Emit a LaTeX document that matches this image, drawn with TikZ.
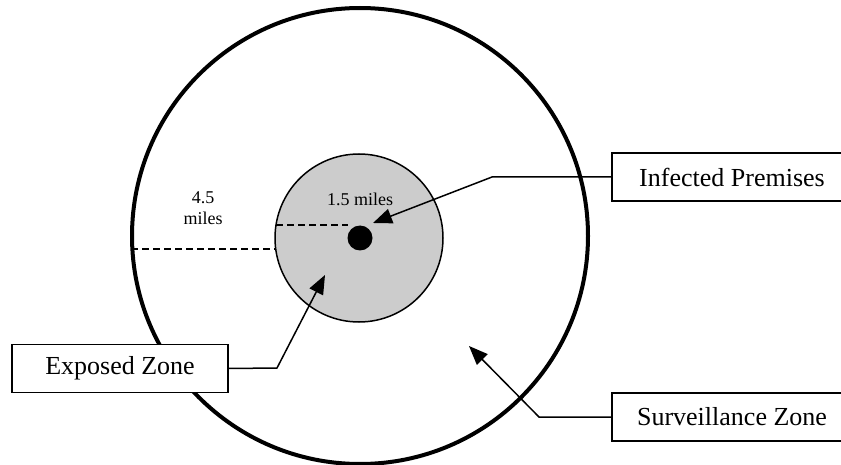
\documentclass[tikz,border=0pt]{standalone}
\usepackage{fontspec}
\setmainfont{Liberation Serif}
\usetikzlibrary{arrows.meta}

\begin{document}
\begin{tikzpicture}[x=1pt, y=-1pt,
    labelbox/.style={draw, fill=white, line width=1.5pt, inner sep=0pt, minimum height=48pt,
      font=\fontsize{26}{30}\selectfont},
    pointer/.style={line width=1.5pt, -{Triangle[length=19pt,width=15pt]}},
    radius line/.style={line width=1.5pt, dash pattern=on 7pt off 4pt},
    distlabel/.style={align=center, inner sep=0pt, font=\fontsize{18}{21}\selectfont}]
    \useasboundingbox (0,0) rectangle (841,465);
    \clip (0,0) rectangle (841,465);
    % zones
    \draw [line width=4pt] (360,236) circle [radius=228pt];
    \draw [line width=1.5pt, fill=black!20] (359,238) circle [radius=84pt];
    \fill (360,238) circle [radius=12.5pt];
    % radii
    \draw [radius line] (131,249) -- (276,249);
    \draw [radius line] (276,225) -- (348,225);
    \node [distlabel] (outer) at (203,208) {4.5\\miles};
    \node [distlabel] (inner) at (360,199) {1.5 miles};
    % boxes
    \node [labelbox, minimum width=240pt] (infected) at (732,177) {Infected Premises};
    \node [labelbox, minimum width=216pt] (exposed) at (120,368.5) {Exposed Zone};
    \node [labelbox, minimum width=240pt] (surveil) at (732,417) {Surveillance Zone};
    % pointers
    \coordinate (ipbend) at (492,177);
    \coordinate (iptip) at (373,223);
    \coordinate (ezbend) at (277,368);
    \coordinate (eztip) at (325,275);
    \coordinate (szbend) at (539,417);
    \coordinate (sztip) at (469,346);
    \draw [pointer] (infected.west) -- (ipbend) -- (iptip);
    \draw [pointer] (exposed.east) -- (ezbend) -- (eztip);
    \draw [pointer] (surveil.west) -- (szbend) -- (sztip);
\end{tikzpicture}
\end{document}
